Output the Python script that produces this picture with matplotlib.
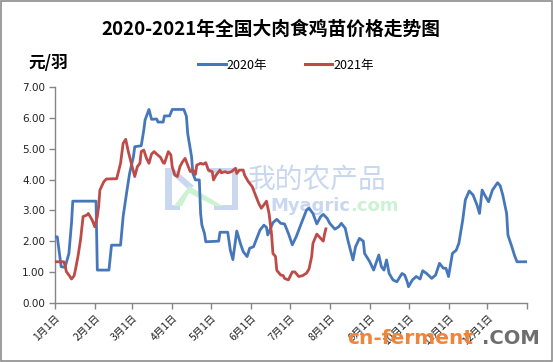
import matplotlib.pyplot as plt
from matplotlib.lines import Line2D
from matplotlib.patches import Rectangle, Polygon

plt.rcParams['font.family'] = ['Noto Sans CJK SC', 'DejaVu Sans']

# --------------------------
# Data (day of year -> price, yuan per chick)
# --------------------------
days_2020 = [0, 2, 5, 8, 11, 13, 14, 32, 33, 42, 44, 51, 53, 56, 58, 61, 62, 67, 69, 70,
             73, 75, 79, 80, 84, 85, 89, 91, 100, 102, 103, 106, 107, 109, 112, 113, 114,
             116, 117, 127, 128, 134, 136, 138, 141, 144, 146, 149, 151, 154, 156, 159,
             162, 164, 165, 169, 172, 175, 178, 181, 184, 187, 191, 195, 197, 200, 203,
             206, 208, 211, 213, 217, 220, 222, 225, 227, 231, 233, 236, 239, 240, 244,
             247, 251, 253, 255, 257, 259, 262, 265, 269, 271, 273, 274, 277, 280, 283,
             285, 288, 292, 295, 298, 301, 303, 305, 308, 311, 313, 316, 318, 321, 324,
             327, 329, 331, 333, 336, 339, 343, 345, 347, 350, 351, 354, 356, 358, 365]
price_2020 = [2.14, 2.14, 1.17, 1.15, 1.6, 2.58, 3.3, 3.3, 1.06, 1.06, 1.87, 1.87, 2.8, 3.66,
              4.2, 4.75, 5.07, 5.1, 5.61, 5.94, 6.28, 5.96, 5.97, 5.87, 5.87, 6.07, 6.07,
              6.28, 6.28, 6.06, 5.5, 4.74, 4.2, 3.99, 3.99, 2.9, 2.52, 2.25, 1.98, 2.0,
              2.29, 2.29, 1.71, 1.4, 2.33, 1.9, 1.66, 1.5, 1.77, 1.82, 2.04, 2.36, 2.52,
              2.45, 2.2, 2.6, 2.71, 2.58, 2.56, 2.25, 1.88, 2.14, 2.58, 3.01, 3.07, 2.9,
              2.56, 2.8, 2.87, 2.74, 2.58, 2.39, 2.47, 2.58, 2.42, 2.04, 1.39, 1.82, 2.09,
              2.0, 1.6, 1.33, 1.06, 1.55, 1.17, 1.06, 1.39, 0.95, 0.74, 0.68, 0.95, 0.9,
              0.68, 0.52, 0.74, 0.85, 0.77, 1.04, 0.95, 0.79, 0.9, 1.28, 1.12, 1.12, 0.85,
              1.6, 1.71, 1.93, 2.69, 3.34, 3.63, 3.5, 3.18, 2.9, 3.66, 3.5, 3.28, 3.66,
              3.9, 3.8, 3.5, 2.9, 2.2, 1.82, 1.55, 1.33, 1.33]

days_2021 = [0, 7, 8, 9, 11, 13, 15, 16, 18, 20, 22, 25, 26, 29, 31, 33, 34, 35, 38, 40,
             48, 51, 53, 55, 57, 58, 60, 62, 64, 66, 67, 69, 71, 73, 75, 77, 79, 82, 84,
             85, 88, 90, 91, 93, 95, 97, 99, 101, 103, 105, 107, 109, 110, 113, 115, 117,
             119, 122, 123, 125, 128, 129, 132, 134, 137, 140, 141, 143, 146, 147, 150,
             153, 155, 158, 160, 162, 164, 166, 168, 169, 171, 172, 175, 177, 178, 181,
             184, 186, 189, 192, 195, 197, 199, 200, 203, 206, 208, 209, 210]
price_2021 = [1.33, 1.33, 1.22, 1.01, 0.9, 0.77, 0.87, 1.06, 1.5, 2.04, 2.8, 2.85, 2.9, 2.69,
              2.47, 2.8, 3.12, 3.66, 3.93, 4.02, 4.03, 4.53, 5.18, 5.31, 4.91, 4.75, 4.42,
              4.1, 4.42, 4.53, 4.91, 4.96, 4.7, 4.53, 4.83, 4.91, 4.83, 4.72, 4.55, 4.53,
              4.91, 4.8, 4.42, 4.15, 4.1, 4.42, 4.58, 4.69, 4.47, 4.26, 4.31, 4.17, 4.47,
              4.53, 4.5, 4.55, 4.31, 4.26, 3.99, 4.15, 4.31, 4.22, 4.26, 4.22, 4.26, 4.37,
              4.2, 4.31, 4.31, 4.15, 3.93, 3.77, 3.55, 3.23, 3.07, 3.18, 3.3, 2.9, 2.2,
              1.6, 1.5, 1.05, 0.9, 0.88, 0.79, 0.74, 1.0, 1.0, 0.85, 0.88, 0.96, 1.1, 1.5,
              1.93, 2.23, 2.09, 2.0, 2.23, 2.4]

month_start = [0, 31, 60, 91, 121, 152, 182, 213, 244, 274, 305, 335, 366]
month_labels = ["1月1日", "2月1日", "3月1日", "4月1日", "5月1日", "6月1日", "7月1日",
                "8月1日", "9月1日", "10月1日", "11月1日", "12月1日", ""]
y_ticks = [0, 1, 2, 3, 4, 5, 6, 7]

W, H = 553, 362


def fx(px):
    return px / W


def fy(py):
    return 1 - py / H


fig = plt.figure(figsize=(W / 100, H / 100), dpi=100)
fig.patch.set_facecolor('white')
ax = fig.add_axes([fx(54.7), fy(302.7), fx(527.3) - fx(54.7), fy(87.3) - fy(302.7)])
ax.patch.set_visible(False)

# --------------------------
# Watermarks (behind the lines)
# --------------------------
wm_blue = '#c9d8f0'
wm_green = '#ccf2d2'
tr = fig.transFigure
for pts in [[(165, 168), (172, 168), (172, 210), (165, 210)],
            [(165, 168), (173, 168), (194, 186), (189, 190)],
            [(208, 168), (238, 168), (238, 173), (208, 173)],
            [(232, 168), (238, 168), (238, 210), (232, 210)],
            [(214, 205), (238, 205), (238, 210), (214, 210)],
            [(165, 205), (180, 205), (180, 210), (165, 210)]]:
    ax.add_patch(Polygon([(fx(a), fy(b)) for a, b in pts], closed=True, transform=tr,
                         facecolor=wm_blue, edgecolor='none', zorder=0.5, clip_on=False))
ax.add_patch(Polygon([(fx(174), fy(206)), (fx(189), fy(186)), (fx(223), fy(206)),
                      (fx(215), fy(206)), (fx(189), fy(193)), (fx(182), fy(206))],
                     closed=True, transform=tr, facecolor=wm_green, edgecolor='none',
                     zorder=0.5, clip_on=False))
ax.text(fx(248), fy(180), "我的农产品", transform=tr, fontsize=20, color=wm_blue,
        va='center', ha='left', zorder=0.5)
ax.text(fx(350), fy(206), "Myagric", transform=tr, fontsize=13, color=wm_blue,
        family='DejaVu Sans', weight='bold', va='center', ha='right', zorder=0.5)
ax.text(fx(350), fy(206), ".com", transform=tr, fontsize=13, color=wm_green,
        family='DejaVu Sans', weight='bold', va='center', ha='left', zorder=0.5)

# --------------------------
# Lines
# --------------------------
blue = '#4677bb'
red = '#be4b48'
ax.plot(days_2020, price_2020, color=blue, lw=2.0, zorder=3, solid_joinstyle='round')
ax.plot(days_2021, price_2021, color=red, lw=2.0, zorder=3, solid_joinstyle='round')

ax.set_xlim(0, 366)
ax.set_ylim(0, 7)
ax.set_xticks(month_start)
ax.set_xticklabels(month_labels, rotation=45, ha='right', rotation_mode='anchor',
                   fontsize=7.5)
ax.set_yticks(y_ticks)
ax.set_yticklabels(["%.2f" % v for v in y_ticks], fontsize=7.5, family='DejaVu Sans')

for s in ['top', 'right']:
    ax.spines[s].set_visible(False)
for s in ['left', 'bottom']:
    ax.spines[s].set_color('#868686')
    ax.spines[s].set_linewidth(1.0)
ax.tick_params(axis='both', direction='out', length=4, color='#868686', width=1.0,
               pad=3, labelcolor='#222222')

# --------------------------
# Titles and legend
# --------------------------
fig.text(fx(271), fy(29), "2020-2021年全国大肉食鸡苗价格走势图", ha='center', va='center',
         fontsize=13.5, weight='bold')
fig.text(fx(48), fy(63), "元/羽", ha='center', va='center', fontsize=12, weight='bold')

handles = [Line2D([], [], color=blue, lw=2.2), Line2D([], [], color=red, lw=2.2)]
fig.legend(handles, ["2020年", "2021年"], loc='center', bbox_to_anchor=(fx(286), fy(65)),
           ncol=2, frameon=False, fontsize=9, handlelength=2.2, handletextpad=0.1,
           columnspacing=3.0)

# site watermark at the bottom right
fig.text(fx(347), fy(339), "cn-ferment", ha='left', va='center', fontsize=14.5,
         weight='bold', color='#f2843a', family='DejaVu Sans', zorder=5)
fig.text(fx(540), fy(339), ".COM", ha='right', va='center', fontsize=14,
         weight='bold', color='#6e6e6e', family='DejaVu Sans', zorder=5)

# chart border
fig.patches.append(Rectangle((0.001, 0.002), 0.997, 0.996, transform=fig.transFigure,
                             fill=False, edgecolor='#8c8c8c', lw=1.2))

fig.savefig("out.png", dpi=100)
